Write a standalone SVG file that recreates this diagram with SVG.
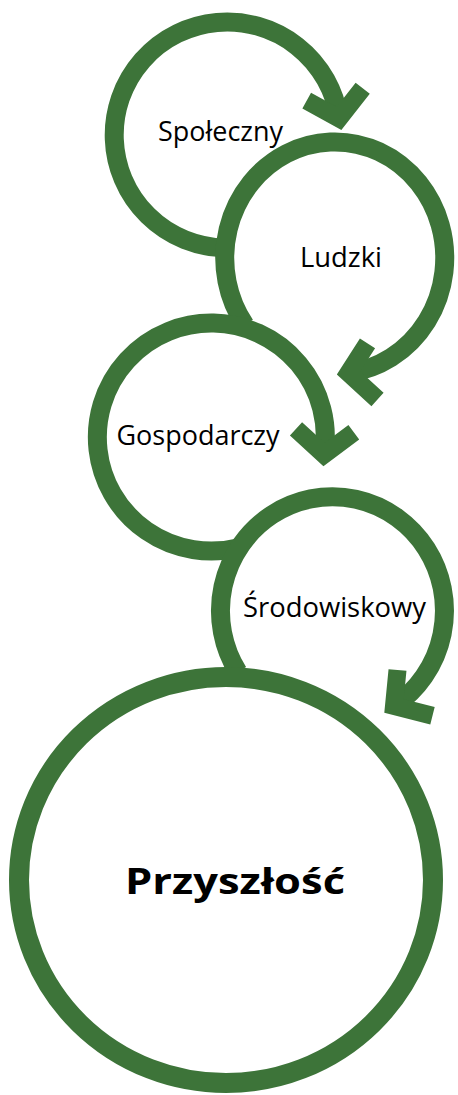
<svg xmlns="http://www.w3.org/2000/svg" width="458" height="1095" viewBox="0 0 458 1095">
  <style>
    .ring { fill: none; stroke: #3d7439; stroke-width: 19; stroke-linecap: butt; }
    .big { fill: none; stroke: #3d7439; stroke-width: 20; }
    .head { fill: none; stroke: #3d7439; stroke-width: 18; stroke-linejoin: miter; stroke-linecap: butt; stroke-miterlimit: 6; }
    .lbl { font-family: "Open Sans", "Noto Sans", "Liberation Sans", sans-serif; font-size: 27px; fill: #000; text-anchor: middle; }
    .title { font-family: "Open Sans", "Noto Sans", "Liberation Sans", sans-serif; font-size: 36px; font-weight: bold; fill: #000; text-anchor: middle; }
  </style>
  <rect width="458" height="1095" fill="#fff"/>
  <g id="node-spoleczny">
    <path class="ring" d="M225,248 A113,113 0 1 1 339,118.5"/>
    <text class="lbl" x="220.5" y="140.5" textLength="125" lengthAdjust="spacingAndGlyphs">Społeczny</text>
  </g>
  <g id="node-ludzki">
    <path class="ring" d="M245,325 A110,116 0 1 1 348.5,373"/>
    <text class="lbl" x="341" y="266.5" textLength="82" lengthAdjust="spacingAndGlyphs">Ludzki</text>
  </g>
  <g id="node-gospodarczy">
    <path class="ring" d="M239.2,547.6 A114,114 0 1 1 324,454.5"/>
    <text class="lbl" x="198" y="445" textLength="163" lengthAdjust="spacingAndGlyphs">Gospodarczy</text>
  </g>
  <g id="node-srodowiskowy">
    <path class="ring" d="M238,672 A112,114 0 1 1 394,706"/>
    <text class="lbl" x="334.5" y="616.5" textLength="183" lengthAdjust="spacingAndGlyphs">Środowiskowy</text>
  </g>
  <g id="node-przyszlosc">
    <ellipse class="big" cx="226" cy="880" rx="207" ry="203"/>
    <text class="title" x="235" y="894" textLength="220" lengthAdjust="spacingAndGlyphs">Przyszłość</text>
  </g>
  <g id="connectors">
    <polyline class="head" points="306.7,100.7 339,118.5 362.7,88.3"/>
    <polyline class="head" points="367.5,343.3 348.5,373 377.5,399.5"/>
    <polyline class="head" points="296,428.8 324,454.5 353.8,432.2"/>
    <polyline class="head" points="397.5,670 394,706 432.5,715.7"/>
  </g>
</svg>
